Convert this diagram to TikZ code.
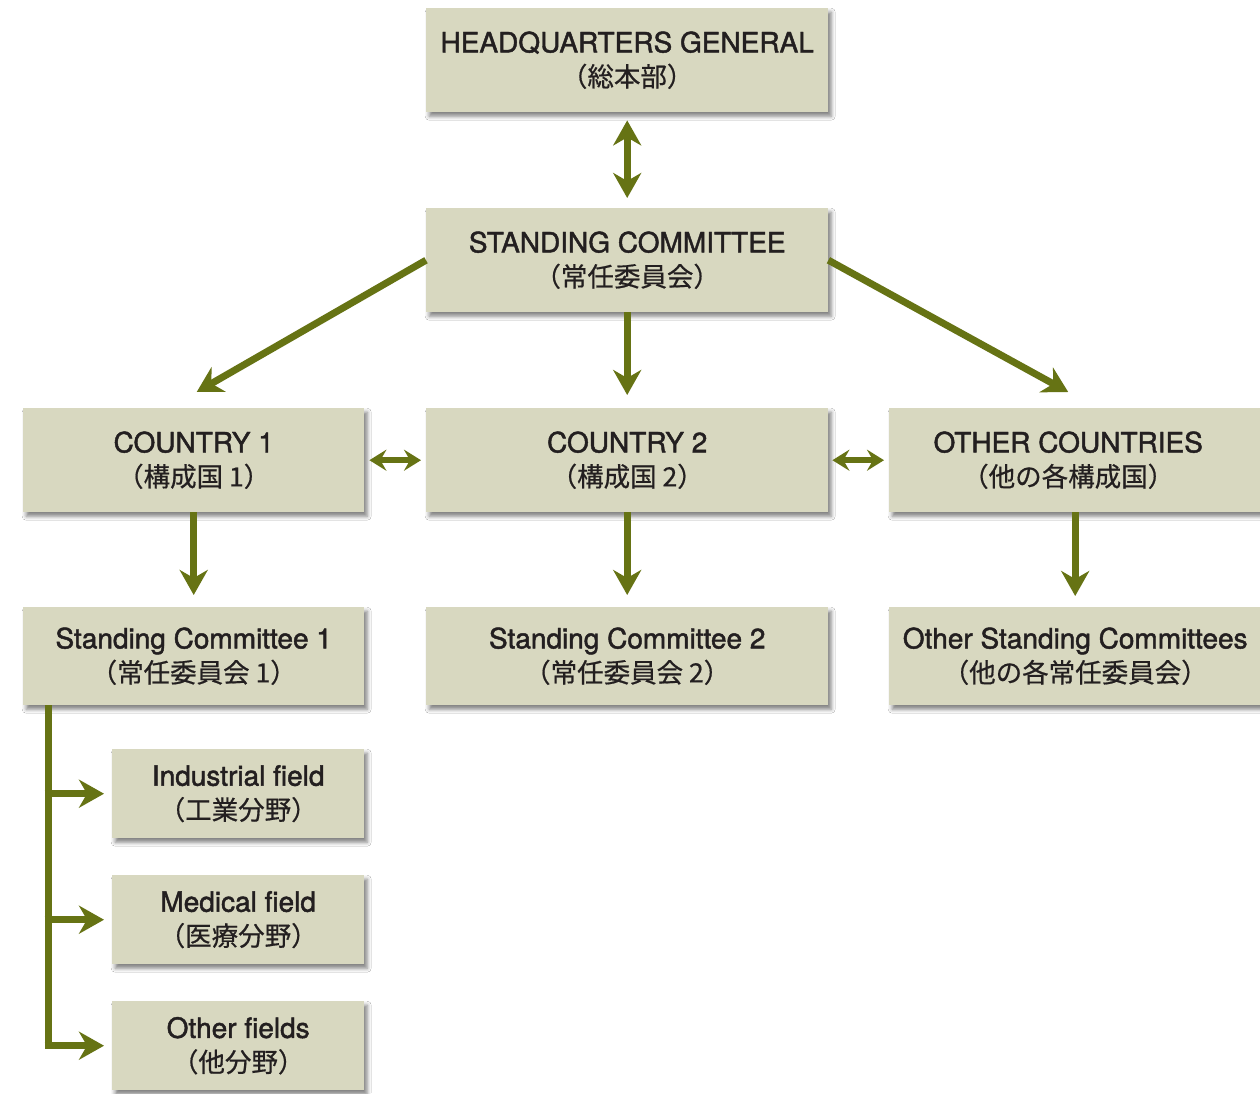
\documentclass[tikz,border=0pt]{standalone}
\usepackage{fontspec}
\setmainfont{TeX Gyre Heros}[FakeBold=1.6]
\newfontfamily\jpfont{Noto Sans CJK JP}[FakeBold=0.6]
\usetikzlibrary{arrows.meta,shadows.blur}

\definecolor{boxfill}{HTML}{D8D8C0}
\definecolor{linkgreen}{HTML}{667314}
\definecolor{inkdark}{HTML}{231F20}

\newcommand{\jp}[1]{{\jpfont\fontsize{26.5}{34}\selectfont #1}}

\tikzset{
  orgbox/.style={fill=boxfill, text=inkdark, align=center, inner sep=0pt,
    anchor=north west, font=\fontsize{28}{34}\selectfont,
    blur shadow={shadow xshift=3pt, shadow yshift=-4pt,
      shadow blur radius=4pt, shadow opacity=50}},
  link/.style={draw=linkgreen, line width=7pt, -{Stealth[length=25pt,width=28pt,inset=8pt]}},
  dlink/.style={draw=linkgreen, line width=7pt,
    {Stealth[length=25pt,width=28pt,inset=8pt]}-{Stealth[length=25pt,width=28pt,inset=8pt]}},
  hlink/.style={draw=linkgreen, line width=6pt,
    {Stealth[length=17pt,width=21pt,inset=6pt]}-{Stealth[length=17pt,width=21pt,inset=6pt]}},
  trunkline/.style={draw=linkgreen, line width=7pt},
}

\begin{document}
\begin{tikzpicture}[x=1pt,y=-1pt]
  \useasboundingbox[fill=white] (0,0) rectangle (1260,1093);

  % headquarters and standing committee
  \node[orgbox, minimum width=402pt, minimum height=104pt] (hq) at (426,8)
    {HEADQUARTERS GENERAL\\\jp{（総本部）}};
  \node[orgbox, minimum width=402pt, minimum height=104pt] (sc) at (426,208)
    {STANDING COMMITTEE\\\jp{（常任委員会）}};

  % countries
  \node[orgbox, minimum width=341pt, minimum height=104pt] (c1) at (23,408)
    {COUNTRY 1\\\jp{（構成国 1）}};
  \node[orgbox, minimum width=402pt, minimum height=104pt] (c2) at (426,408)
    {COUNTRY 2\\\jp{（構成国 2）}};
  \node[orgbox, minimum width=381pt, minimum height=104pt] (oc) at (889,408)
    {OTHER COUNTRIES\hspace*{23pt}\\\jp{（他の各構成国）}\hspace*{23pt}};

  % standing committees of the countries
  \node[orgbox, minimum width=341pt, minimum height=98pt] (sc1) at (23,607)
    {Standing Committee 1\\\jp{（常任委員会 1）}};
  \node[orgbox, minimum width=402pt, minimum height=98pt] (sc2) at (426,607)
    {Standing Committee 2\\\jp{（常任委員会 2）}};
  \node[orgbox, minimum width=381pt, minimum height=98pt] (osc) at (889,607)
    {Other Standing Committees\hspace*{9pt}\\\jp{（他の各常任委員会）}\hspace*{9pt}};

  % fields
  \node[orgbox, minimum width=252pt, minimum height=89pt] (f1) at (112,749)
    {Industrial field\\\jp{（工業分野）}};
  \node[orgbox, minimum width=252pt, minimum height=89pt] (f2) at (112,875)
    {Medical field\\\jp{（医療分野）}};
  \node[orgbox, minimum width=252pt, minimum height=89pt] (f3) at (112,1001)
    {Other fields\\\jp{（他分野）}};

  % connectors
  \draw[dlink, shorten <=8pt, shorten >=10pt] (hq.south) -- (sc.north);
  \draw[link, shorten >=13pt] (sc.south) -- (c2.north);
  \draw[link] (sc.west) -- ([xshift=3pt,yshift=16pt]c1.north);
  \draw[link] (sc.east) -- ([xshift=-11.5pt,yshift=16pt]oc.north);

  \draw[hlink, shorten <=5pt, shorten >=5pt] (c1.east) -- (c2.west);
  \draw[hlink, shorten <=4pt, shorten >=5pt] (c2.east) -- (oc.west);

  \draw[link, shorten >=12pt] (c1.south) -- (sc1.north);
  \draw[link, shorten >=12pt] (c2.south) -- (sc2.north);
  \draw[link, shorten >=11pt] ([xshift=-4.5pt]oc.south) -- ([xshift=-4.5pt]osc.north);

  \coordinate (trunk) at ([xshift=25pt]sc1.south west);
  \draw[trunkline] (trunk) -- (trunk |- f3.west);
  \draw[link, shorten >=8pt] ([xshift=-3.5pt]trunk |- f1.west) -- (f1.west);
  \draw[link, shorten >=8pt] ([xshift=-3.5pt]trunk |- f2.west) -- (f2.west);
  \draw[link, shorten >=8pt] ([xshift=-3.5pt]trunk |- f3.west) -- (f3.west);
\end{tikzpicture}
\end{document}
